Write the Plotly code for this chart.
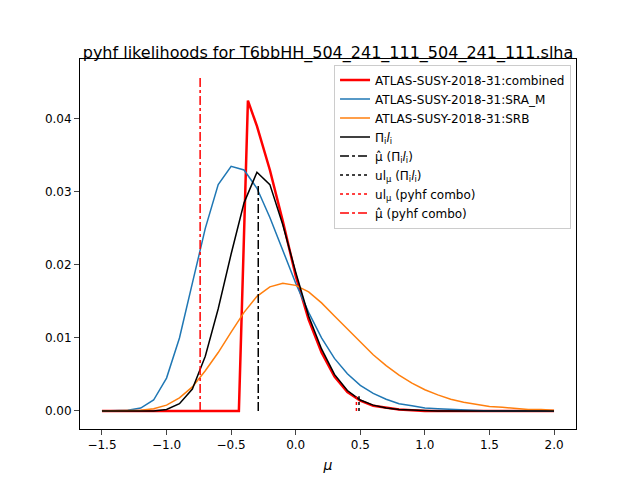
import plotly.graph_objects as go

mu = [-1.5,-1.4,-1.3,-1.2,-1.1,-1.0,-0.9,-0.8,-0.7,-0.6,-0.5,-0.4,-0.3,-0.2,-0.1,0.0,0.1,0.2,0.3,0.4,0.5,0.6,0.7,0.8,0.9,1.0,1.1,1.2,1.3,1.4,1.5,1.6,1.7,1.8,1.9,2.0]
sra_m = [0,0,0.0001,0.0004,0.0015,0.0045,0.0100,0.0175,0.025,0.031,0.0335,0.033,0.0305,0.0265,0.022,0.0175,0.0135,0.0100,0.0072,0.0051,0.0035,0.0024,0.0016,0.0010,0.0007,0.0004,0.0003,0.0002,0.0001,0.0001,0,0,0,0,0,0]
srb = [0,0,0,0.0001,0.0003,0.0008,0.0018,0.0033,0.0055,0.008,0.0108,0.0135,0.0157,0.017,0.0175,0.0172,0.0163,0.0148,0.0130,0.0112,0.0094,0.0077,0.0062,0.0049,0.0038,0.0029,0.0022,0.0016,0.0012,0.0009,0.0006,0.0005,0.0003,0.0002,0.0002,0.0001]
prod = [0,0,0,0,0,0.0002,0.001,0.003,0.0075,0.014,0.0215,0.0285,0.0327,0.031,0.0255,0.019,0.013,0.0085,0.005,0.0028,0.0015,0.0008,0.0004,0.0002,0.0001,0,0,0,0,0,0,0,0,0,0,0]
mu_red = [-1.5,-0.44,-0.37,-0.3,-0.2,-0.1,0.0,0.1,0.2,0.3,0.4,0.5,0.6,0.7,0.8,0.9,1.0,2.0]
combined = [0,0,0.0425,0.039,0.033,0.026,0.0185,0.0125,0.008,0.0047,0.0026,0.0014,0.0007,0.0004,0.0002,0.0001,0,0]

muhat_prod, muhat_prod_h = -0.29, 0.0312
ul_prod, ul_prod_h = 0.49, 0.002
ul_combo, ul_combo_h = 0.47, 0.002
muhat_combo, muhat_combo_h = -0.74, 0.046

fig = go.Figure()
fig.add_trace(go.Scatter(x=mu_red, y=combined, mode="lines", line=dict(color="red", width=2.5), name="ATLAS-SUSY-2018-31:combined"))
fig.add_trace(go.Scatter(x=mu, y=sra_m, mode="lines", line=dict(color="#1f77b4", width=1.5), name="ATLAS-SUSY-2018-31:SRA_M"))
fig.add_trace(go.Scatter(x=mu, y=srb, mode="lines", line=dict(color="#ff7f0e", width=1.5), name="ATLAS-SUSY-2018-31:SRB"))
fig.add_trace(go.Scatter(x=mu, y=prod, mode="lines", line=dict(color="black", width=1.5), name="Π<sub>i</sub><i>l</i><sub>i</sub>"))
for x, h, c, d, n in [(muhat_prod, muhat_prod_h, "black", "dashdot", "μ̂ (Π<sub>i</sub><i>l</i><sub>i</sub>)"),
                      (ul_prod, ul_prod_h, "black", "dot", "ul<sub>μ</sub> (Π<sub>i</sub><i>l</i><sub>i</sub>)"),
                      (ul_combo, ul_combo_h, "red", "dot", "ul<sub>μ</sub> (pyhf combo)"),
                      (muhat_combo, muhat_combo_h, "red", "dashdot", "μ̂ (pyhf combo)")]:
    fig.add_trace(go.Scatter(x=[x, x], y=[0, h], mode="lines", line=dict(color=c, width=1.5, dash=d), name=n))

ax = dict(showline=True, linecolor="black", mirror=True, ticks="outside", showgrid=False, zeroline=False,
          tickfont=dict(size=12, color="black"))
fig.update_layout(
    width=640, height=480, plot_bgcolor="white", paper_bgcolor="white",
    font=dict(family="DejaVu Sans", color="black"),
    title=dict(text="pyhf likelihoods for T6bbHH_504_241_111_504_241_111.slha", x=0.5, xanchor="center",
               y=0.908, yanchor="middle", yref="container", font=dict(size=16)),
    margin=dict(l=72, r=72, t=51, b=59),
    xaxis=dict(ax, range=[-1.67, 2.17], tickvals=[-1.5,-1.0,-0.5,0.0,0.5,1.0,1.5,2.0], tickformat=".1f",
               title=dict(text="<i>μ</i>", standoff=8)),
    yaxis=dict(ax, range=[-0.00247, 0.0482], tickvals=[0,0.01,0.02,0.03,0.04], tickformat=".2f"),
    legend=dict(x=0.99, y=0.985, xanchor="right", yanchor="top", bordercolor="#cccccc", borderwidth=1,
                bgcolor="rgba(255,255,255,0.8)", font=dict(size=12), tracegroupgap=0),
)
fig.write_html("out.html")
